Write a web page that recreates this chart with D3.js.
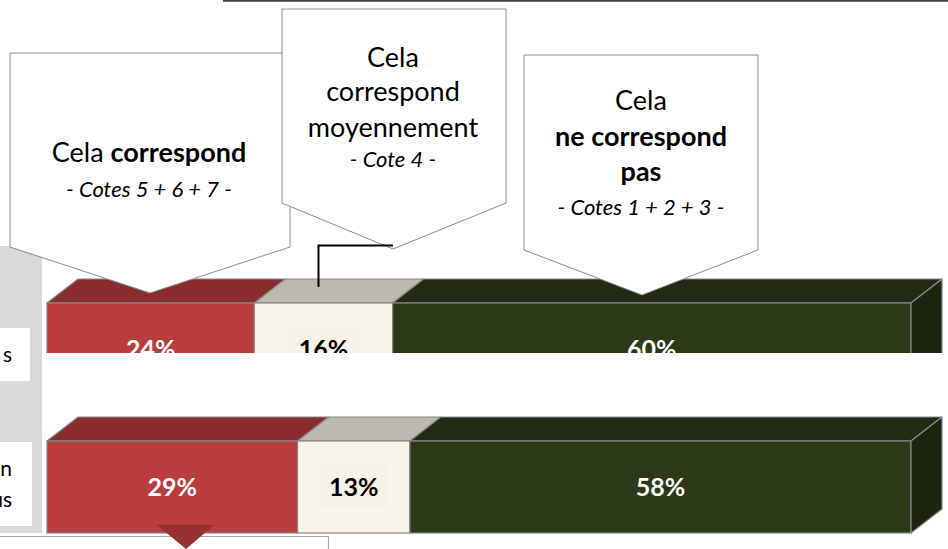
<!DOCTYPE html>
<html><head><meta charset="utf-8">
<script src="https://cdn.jsdelivr.net/npm/d3@7"></script>
<style>html,body{margin:0;padding:0;background:#fff;overflow:hidden}svg{display:block;font-family:Lato,"Carlito",Calibri,sans-serif}</style>
</head><body><div id="chart"></div>
<script>
// ---- data ----
const categories = ["row1", "row2"];
const rowLabels = [["s"], ["n", "us"]];
const seriesNames = ["Cela correspond", "Cela correspond moyennement", "Cela ne correspond pas"];
const valuesCorrespond = [24, 29];
const valuesMoyen = [16, 13];
const valuesNeCorrespond = [60, 58];
const seriesValues = [valuesCorrespond, valuesMoyen, valuesNeCorrespond];

// ---- styles ----
const frontColors = ["#b93d3e", "#f8f4e9", "#2b3918"];
const topColors = ["#8a2c2d", "#bcb9b1", "#212a12"];
const sideColor = "#1c2410";
const labelColors = ["#ffffff", "#000000", "#ffffff"];

const W = 948, H = 549;
const svg = d3.select("#chart").append("svg").attr("width", W).attr("height", H);

const x = d3.scaleLinear().domain([0, 100]).range([47, 911]);
const y = d3.scaleBand().domain(categories).range([303, 533]).paddingInner(1 / 3).paddingOuter(0);
const dx = 31, dy = 24;

// top line
svg.append("line").attr("x1", 223).attr("x2", W).attr("y1", 0.8).attr("y2", 0.8)
  .attr("stroke", "#404040").attr("stroke-width", 1.8);

// left grey panel
svg.append("rect").attr("x", 0).attr("y", 246).attr("width", 42).attr("height", 287).attr("fill", "#d9d9d9");

// stacked data
const stacked = categories.map((c, i) => {
  let acc = 0;
  return seriesValues.map((vals, s) => {
    const d = { cat: c, s, v: vals[i], x0: acc, x1: acc + vals[i] };
    acc += vals[i];
    return d;
  });
});

const bars = svg.append("g");
stacked.forEach((segs, i) => {
  const g = bars.append("g");
  const yt = y(categories[i]), bh = y.bandwidth();
  segs.forEach(d => {
    const a = x(d.x0), b = x(d.x1);
    g.append("path")
      .attr("d", `M${a},${yt}L${a + dx},${yt - dy}L${b + dx},${yt - dy}L${b},${yt}Z`)
      .attr("fill", topColors[d.s]).attr("stroke", "#878787").attr("stroke-width", 1.2).attr("stroke-linejoin", "round");
    g.append("rect").attr("x", a).attr("y", yt).attr("width", b - a).attr("height", bh)
      .attr("fill", frontColors[d.s]).attr("stroke", "#878787").attr("stroke-width", 1.2);
  });
  const xe = x(segs[segs.length - 1].x1);
  g.append("path")
    .attr("d", `M${xe},${yt}L${xe + dx},${yt - dy}L${xe + dx},${yt + bh - dy}L${xe},${yt + bh}Z`)
    .attr("fill", sideColor).attr("stroke", "#878787").attr("stroke-width", 1.2).attr("stroke-linejoin", "round");
  segs.forEach(d => {
    const cx = (x(d.x0) + x(d.x1)) / 2, cy = yt + bh / 2;
    if (d.s === 1) {
      g.append("rect").attr("x", cx - 34).attr("y", cy - 23).attr("width", 68).attr("height", 44).attr("fill", "#f6f2e8");
    }
    g.append("text").attr("x", cx).attr("y", cy + 9).attr("text-anchor", "middle")
      .attr("font-size", 25).attr("font-weight", "bold").attr("fill", labelColors[d.s]).text(d.v + "%");
  });
});

// white strip covering lower part of first bar
svg.append("rect").attr("x", 42).attr("y", 353).attr("width", W - 42).attr("height", 60).attr("fill", "#fff");

// row label boxes
const labelBoxes = [{ y: 328, h: 53, w: 30 }, { y: 442, h: 84, w: 32 }];
rowLabels.forEach((lines, i) => {
  const bx = labelBoxes[i];
  svg.append("rect").attr("x", 0).attr("y", bx.y).attr("width", bx.w).attr("height", bx.h).attr("fill", "#fff");
  const t = svg.append("text").attr("font-size", 21).attr("fill", "#000").attr("text-anchor", "end");
  const n = lines.length, lh = 31;
  const cy = bx.y + bx.h / 2;
  lines.forEach((ln, k) => {
    t.append("tspan").attr("x", 12).attr("y", cy + 7 + (k - (n - 1) / 2) * lh).text(ln);
  });
});

// bottom box and marker
svg.append("path").attr("d", "M0,536.5H328.5V549").attr("fill", "none").attr("stroke", "#a6a6a6").attr("stroke-width", 1.2);
svg.append("path").attr("d", "M157,525L214,525L186,549Z").attr("fill", "#963031");

// callouts
function callout(c) {
  svg.append("path")
    .attr("d", `M${c.x0},${c.top}L${c.x1},${c.top}L${c.x1},${c.side}L${c.px},${c.py}L${c.x0},${c.side}Z`)
    .attr("fill", "#fff").attr("stroke", "#8c8c8c").attr("stroke-width", 1);
  const t = svg.append("text").attr("text-anchor", "middle").attr("fill", "#000");
  c.lines.forEach(l => {
    const ts = t.append("tspan").attr("x", c.cx).attr("y", l.y).attr("font-size", l.size);
    l.parts.forEach(p => {
      ts.append("tspan").attr("font-weight", p.b ? "bold" : "normal").attr("font-style", p.i ? "italic" : "normal").text(p.t);
    });
  });
}
callout({ x0: 10, x1: 290, top: 53, side: 247, px: 150, py: 293, cx: 149,
  lines: [
    { y: 162, size: 27, parts: [{ t: "Cela " }, { t: "correspond", b: true }] },
    { y: 197, size: 22, parts: [{ t: "- Cotes 5 + 6 + 7 -", i: true }] }
  ] });
callout({ x0: 524, x1: 758, top: 55, side: 250, px: 642, py: 295, cx: 641,
  lines: [
    { y: 110, size: 27, parts: [{ t: "Cela" }] },
    { y: 146, size: 27, parts: [{ t: "ne correspond", b: true }] },
    { y: 181, size: 27, parts: [{ t: "pas", b: true }] },
    { y: 215, size: 22, parts: [{ t: "- Cotes 1 + 2 + 3 -", i: true }] }
  ] });
callout({ x0: 282, x1: 506, top: 9, side: 203, px: 393, py: 249, cx: 393,
  lines: [
    { y: 67, size: 27, parts: [{ t: "Cela" }] },
    { y: 101, size: 27, parts: [{ t: "correspond" }] },
    { y: 137, size: 27, parts: [{ t: "moyennement" }] },
    { y: 167, size: 22, parts: [{ t: "- Cote 4 -", i: true }] }
  ] });

// connector
svg.append("path").attr("d", "M393,245.5H318.5V287").attr("fill", "none").attr("stroke", "#000").attr("stroke-width", 2);
</script></body></html>
